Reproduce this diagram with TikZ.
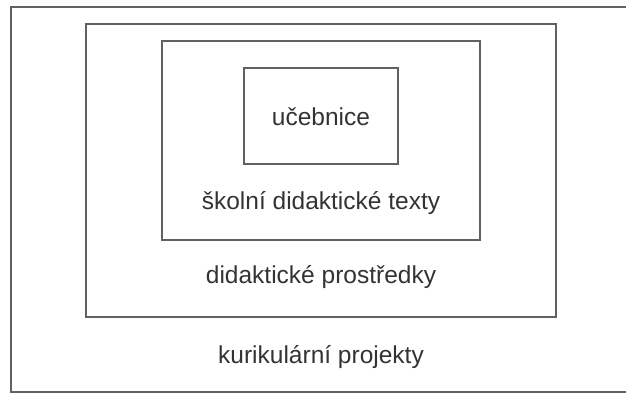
\documentclass[tikz,border=0pt]{standalone}
\usepackage{fontspec}
\setmainfont{Liberation Sans}

\begin{document}
\begin{tikzpicture}[x=1pt, y=-1pt,
    boxline/.style={draw=black!62, line width=1.5pt},
    boxtext/.style={text=black!80, anchor=base, inner sep=0pt, font=\fontsize{24.5}{29}\selectfont}]
    \useasboundingbox (0,0) rectangle (626,394);

    \coordinate (O1) at (11,7);
    \coordinate (O2) at (631,392);
    \coordinate (D1) at (86,24);
    \coordinate (D2) at (556,317);
    \coordinate (S1) at (162,41);
    \coordinate (S2) at (480,240);
    \coordinate (U1) at (244,68);
    \coordinate (U2) at (398,164);

    \draw[boxline] (O1) rectangle (O2);
    \draw[boxline] (D1) rectangle (D2);
    \draw[boxline] (S1) rectangle (S2);
    \draw[boxline] (U1) rectangle (U2);

    \node[boxtext] (ucebnice)  at (321,125) {učebnice};
    \node[boxtext] (texty)     at (321,209) {školní didaktické texty};
    \node[boxtext] (prostredky) at (321,283) {didaktické prostředky};
    \node[boxtext] (projekty)  at (321,363) {kurikulární projekty};
\end{tikzpicture}
\end{document}
